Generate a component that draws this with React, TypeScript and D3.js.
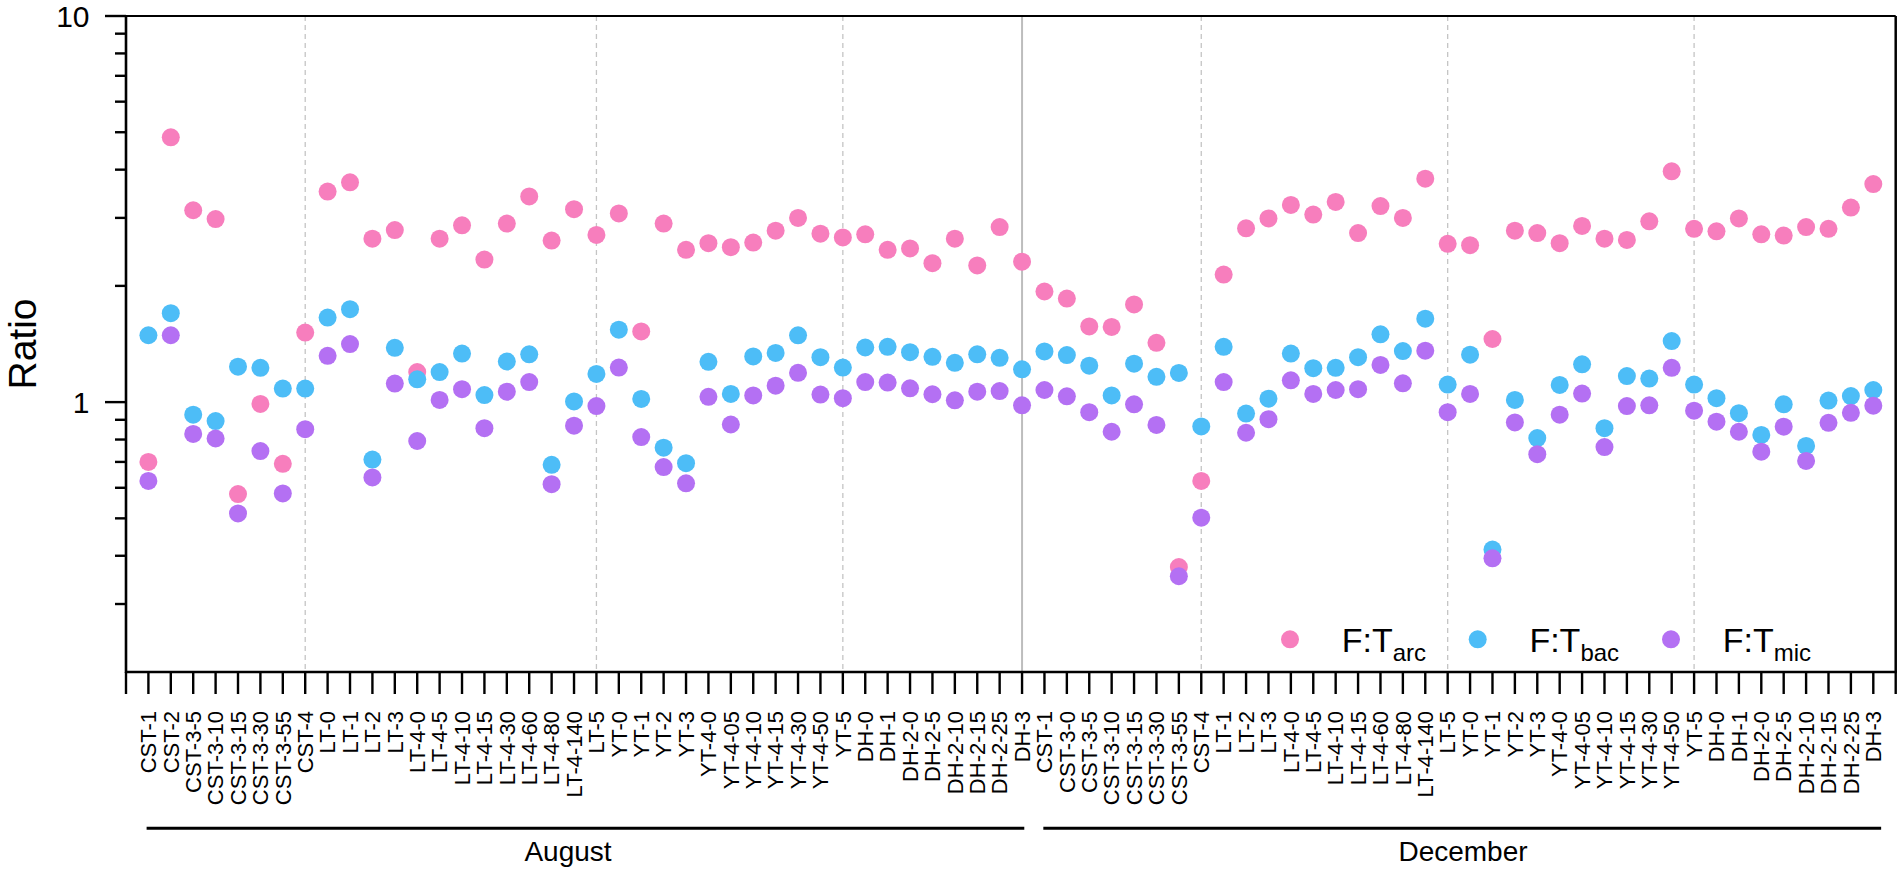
import React from "react";
import * as d3 from "d3";

const monthNames = ["August", "December"];
const augCategories = ["CST-1","CST-2","CST-3-5","CST-3-10","CST-3-15","CST-3-30","CST-3-55","CST-4","LT-0","LT-1","LT-2","LT-3","LT-4-0","LT-4-5","LT-4-10","LT-4-15","LT-4-30","LT-4-60","LT-4-80","LT-4-140","LT-5","YT-0","YT-1","YT-2","YT-3","YT-4-0","YT-4-05","YT-4-10","YT-4-15","YT-4-30","YT-4-50","YT-5","DH-0","DH-1","DH-2-0","DH-2-5","DH-2-10","DH-2-15","DH-2-25","DH-3"];
const decCategories = ["CST-1","CST-3-0","CST-3-5","CST-3-10","CST-3-15","CST-3-30","CST-3-55","CST-4","LT-1","LT-2","LT-3","LT-4-0","LT-4-5","LT-4-10","LT-4-15","LT-4-60","LT-4-80","LT-4-140","LT-5","YT-0","YT-1","YT-2","YT-3","YT-4-0","YT-4-05","YT-4-10","YT-4-15","YT-4-30","YT-4-50","YT-5","DH-0","DH-1","DH-2-0","DH-2-5","DH-2-10","DH-2-15","DH-2-25","DH-3"];

const arcAug = [0.70,4.85,3.14,2.98,0.578,0.989,0.692,1.514,3.51,3.71,2.65,2.79,1.196,2.65,2.87,2.34,2.90,3.41,2.62,3.16,2.71,3.08,1.524,2.90,2.48,2.58,2.52,2.59,2.78,3.00,2.73,2.67,2.72,2.48,2.50,2.29,2.65,2.26,2.84,2.31];
const bacAug = [1.49,1.70,0.928,0.893,1.235,1.227,1.084,1.084,1.656,1.74,0.710,1.382,1.146,1.196,1.336,1.043,1.274,1.330,0.688,1.004,1.183,1.54,1.019,0.762,0.695,1.272,1.050,1.313,1.341,1.489,1.307,1.229,1.385,1.391,1.347,1.31,1.264,1.330,1.302,1.216];
const micAug = [0.625,1.49,0.827,0.805,0.515,0.747,0.580,0.851,1.318,1.414,0.638,1.117,0.793,1.013,1.08,0.856,1.064,1.127,0.613,0.869,0.977,1.229,0.812,0.679,0.616,1.032,0.875,1.041,1.103,1.191,1.046,1.024,1.127,1.124,1.086,1.048,1.011,1.064,1.068,0.981];

const arcDec = [1.934,1.854,1.57,1.566,1.791,1.424,0.374,0.625,2.14,2.82,2.99,3.24,3.06,3.30,2.74,3.22,3.00,3.79,2.57,2.55,1.457,2.78,2.74,2.58,2.86,2.65,2.63,2.94,3.96,2.81,2.77,2.99,2.72,2.70,2.84,2.81,3.19,3.67];
const bacDec = [1.353,1.324,1.243,1.041,1.258,1.163,1.19,0.865,1.391,0.934,1.021,1.336,1.224,1.227,1.307,1.498,1.356,1.645,1.110,1.327,0.415,1.013,0.807,1.108,1.253,0.856,1.168,1.151,1.439,1.110,1.024,0.936,0.822,0.987,0.770,1.009,1.037,1.075];
const micDec = [1.075,1.035,0.942,0.838,0.987,0.873,0.354,0.502,1.127,0.833,0.903,1.139,1.05,1.075,1.08,1.248,1.119,1.359,0.942,1.05,0.394,0.886,0.733,0.928,1.052,0.765,0.977,0.981,1.227,0.950,0.890,0.838,0.744,0.864,0.704,0.884,0.938,0.979];

const yMajorTicks = [1, 10];
const yMinorTicks = [0.3,0.4,0.5,0.6,0.7,0.8,0.9,2,3,4,5,6,7,8,9];

const seriesNames = ["arc", "bac", "mic"];
const seriesColors = ["#f77ebd", "#4dbdf7", "#b470f3"];

const W = 1902, H = 871;
const FONT = "Arial, 'Liberation Sans', Helvetica, sans-serif";

export default function App() {
  const categories = [...augCategories, ...decCategories];
  const n = categories.length;
  const series = [
    [...arcAug, ...arcDec],
    [...bacAug, ...bacDec],
    [...micAug, ...micDec],
  ];
  const x = d3.scaleLinear().domain([0, n + 1]).range([126, 1895.7]);
  const y = d3.scaleLog().domain([0.2, 10]).range([672, 16]);
  const xTicks = d3.range(0, n + 2);
  const top = y(10), bottom = y(0.2);

  // divider lines: end of each site group within month (dashed), end of month (solid)
  const dividers: { i: number; solid: boolean }[] = [];
  categories.forEach((c, i) => {
    if (i === n - 1) return;
    if (i === augCategories.length - 1) { dividers.push({ i, solid: true }); return; }
    const g = c.split("-")[0], g2 = categories[i + 1].split("-")[0];
    if (g !== g2) dividers.push({ i, solid: false });
  });

  const monthSpans = [
    { name: monthNames[0], x1: x(0.92), x2: x(augCategories.length + 0.1), tx: 568 },
    { name: monthNames[1], x1: x(augCategories.length + 0.95), x2: x(n + 0.35), tx: 1463 },
  ];

  const legendX = [1290, 1477.7, 1671];

  return (
    <svg width={W} height={H} style={{ position: "absolute", left: 0, top: 0, background: "#fff" }} fontFamily={FONT}>
      {/* dividers */}
      {dividers.map((d) => (
        <line key={"d" + d.i} x1={x(d.i + 1)} x2={x(d.i + 1)} y1={top} y2={bottom}
          stroke={d.solid ? "#bdbdbd" : "#c4c4c4"} strokeWidth={d.solid ? 2 : 1.3}
          strokeDasharray={d.solid ? undefined : "5,4"} />
      ))}
      {/* frame top and right */}
      <line x1={x(0)} x2={x(n + 1)} y1={top} y2={top} stroke="#000" strokeWidth={2.2} />
      <line x1={x(n + 1)} x2={x(n + 1)} y1={top} y2={bottom} stroke="#000" strokeWidth={2.5} />
      {/* points */}
      {series.map((vals, si) => (
        <g key={seriesNames[si]} fill={seriesColors[si]}>
          {vals.map((v, i) => (
            <circle key={i} cx={x(i + 1)} cy={y(v)} r={9} />
          ))}
        </g>
      ))}
      {/* y axis */}
      <line x1={x(0)} x2={x(0)} y1={top - 1} y2={bottom + 1} stroke="#000" strokeWidth={2.6} />
      {yMajorTicks.map((t) => (
        <g key={"ym" + t}>
          <line x1={x(0) - 21} x2={x(0)} y1={y(t)} y2={y(t)} stroke="#000" strokeWidth={2.4} />
          <text x={89.5} y={y(t)} dy="0.35em" textAnchor="end" fontSize={30}>{t}</text>
        </g>
      ))}
      {yMinorTicks.map((t) => (
        <line key={"yn" + t} x1={x(0) - 11} x2={x(0)} y1={y(t)} y2={y(t)} stroke="#000" strokeWidth={2.4} />
      ))}
      <text transform={`translate(36,${(top + bottom) / 2}) rotate(-90)`} textAnchor="middle" fontSize={39}>Ratio</text>
      {/* x axis */}
      <line x1={x(0) - 1} x2={x(n + 1) + 1} y1={bottom} y2={bottom} stroke="#000" strokeWidth={2.6} />
      {xTicks.map((t) => (
        <line key={"xt" + t} x1={x(t)} x2={x(t)} y1={bottom} y2={bottom + 22} stroke="#000" strokeWidth={2.4} />
      ))}
      {categories.map((c, i) => (
        <text key={"xl" + i} transform={`translate(${x(i + 1)},711) rotate(-90)`} dy="0.35em"
          textAnchor="end" fontSize={22}>{c}</text>
      ))}
      {/* month spans */}
      {monthSpans.map((m) => (
        <g key={m.name}>
          <line x1={m.x1} x2={m.x2} y1={828.3} y2={828.3} stroke="#000" strokeWidth={3} />
          <text x={m.tx} y={860.7} textAnchor="middle" fontSize={28}>{m.name}</text>
        </g>
      ))}
      {/* legend */}
      {seriesNames.map((s, si) => (
        <g key={"lg" + s}>
          <circle cx={legendX[si]} cy={639.3} r={9} fill={seriesColors[si]} />
          <text x={legendX[si] + 51.7} y={651.7} fontSize={34}>
            F:T<tspan fontSize={24} dy={9}>{s}</tspan>
          </text>
        </g>
      ))}
    </svg>
  );
}
